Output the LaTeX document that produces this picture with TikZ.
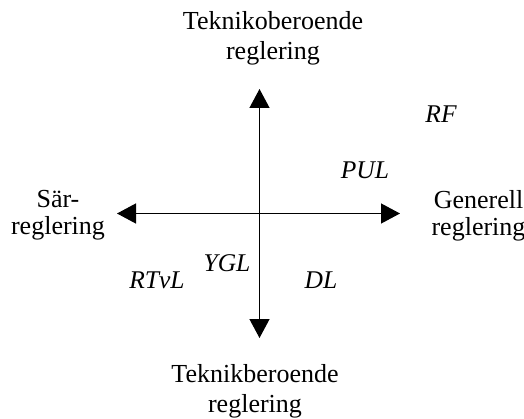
\documentclass[tikz,border=0pt]{standalone}
\usepackage{fontspec}
\setmainfont{Liberation Serif}
\usetikzlibrary{arrows.meta}
\begin{document}
\begin{tikzpicture}[x=1pt,y=1pt,
  lbl/.style={inner sep=0pt,align=center,anchor=north},
  vlbl/.style={lbl,font=\fontsize{26}{30}\selectfont},
  hlbl/.style={lbl,font=\fontsize{26}{27}\selectfont},
  ital/.style={inner sep=0pt,font=\fontsize{25.5}{28}\selectfont\itshape,anchor=base},
  axis/.style={line width=1.3pt,-{Triangle[length=19pt,width=20pt]}}]
\useasboundingbox (0,0) rectangle (524,418);
\coordinate (o) at (259.5,204.5);
\coordinate (n) at (259.5,329);
\coordinate (s) at (259.5,80);
\coordinate (w) at (117,204.5);
\coordinate (e) at (400,204.5);
\draw[axis] (o) -- (n);
\draw[axis] (o) -- (s);
\draw[axis] (o) -- (w);
\draw[axis] (o) -- (e);
\node[vlbl] (top) at (273,406.8) {Teknikoberoende\\reglering};
\node[vlbl] (bot) at (255,53.8) {Teknikberoende\\reglering};
\node[hlbl] (left) at (58,227.6) {Sär-\\reglering};
\node[hlbl] (right) at (478.5,227.8) {Generell\\reglering};
\node[ital] (rf) at (441,295) {RF};
\node[ital] (pul) at (365,239) {PUL};
\node[ital] (ygl) at (227,147) {YGL};
\node[ital] (rtvl) at (157,130) {RTvL};
\node[ital] (dl) at (321,130) {DL};
\end{tikzpicture}
\end{document}
